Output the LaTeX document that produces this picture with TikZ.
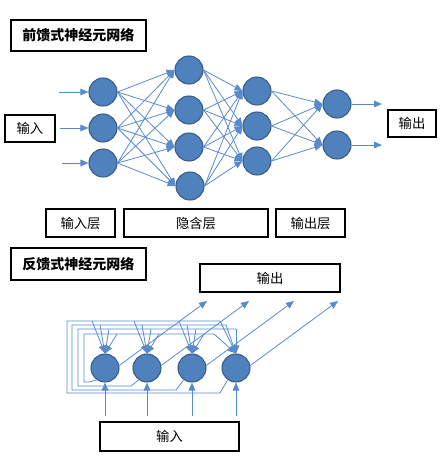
\documentclass[tikz,border=0pt]{standalone}
\usepackage{fontspec}
\newfontfamily\cjk{Noto Sans CJK SC}
\usetikzlibrary{arrows.meta}
\definecolor{nfill}{RGB}{79,129,189}
\definecolor{nedge}{RGB}{56,93,138}
\definecolor{lcol}{RGB}{88,138,204}
\begin{document}
\begin{tikzpicture}[x=0.75pt,y=-0.75pt,
  neuron/.style={circle,fill=nfill,draw=nedge,line width=0.8pt,minimum size=21pt,inner sep=0pt},
  lbl/.style={draw=black,line width=0.8pt,font=\cjk\fontsize{10pt}{12pt}\selectfont,inner sep=0pt},
  ttl/.style={lbl,font=\cjk\bfseries\fontsize{10.5pt}{12pt}\selectfont},
  conn/.style={draw=lcol,line width=0.6pt,-{Triangle[length=6pt,width=5pt]}},
  fb/.style={draw=lcol,line width=0.6pt}]
\useasboundingbox (0,0) rectangle (444,458);
% ---------- feedforward ----------
\node[ttl,minimum width=101.25pt,minimum height=23.25pt] (t1) at (78.5,35.5) {前馈式神经元网络};
\node[lbl,minimum width=37.5pt,minimum height=20.25pt] (inb) at (30,128.5) {输入};
\node[lbl,minimum width=36pt,minimum height=20.25pt] (outb) at (412,123.5) {输出};
\node[lbl,minimum width=51.75pt,minimum height=21pt] (l1) at (80.5,223) {输入层};
\node[lbl,minimum width=108pt,minimum height=21pt] (l2) at (196,223) {隐含层};
\node[lbl,minimum width=51.75pt,minimum height=21pt] (l3) at (310.5,223) {输出层};

\foreach \n/\y in {1/92,2/128,3/163} \node[neuron] (i\n) at (103,\y) {};
\foreach \n/\x/\y in {1/189/70,2/189/110,3/189/147,4/190/186} \node[neuron] (h\n) at (\x,\y) {};
\foreach \n/\y in {1/91,2/126,3/161} \node[neuron] (g\n) at (257,\y) {};
\foreach \n/\y in {1/104,2/145} \node[neuron] (o\n) at (337,\y) {};

\foreach \n/\x/\y in {1/59/92,2/60/128,3/62/163} {
  \coordinate (s\n) at (\x,\y);
  \draw[conn] (s\n) -- (i\n.west);
}
\foreach \a in {1,2,3} \foreach \b in {1,2,3,4} \draw[conn] (i\a.east) -- (h\b.west);
\foreach \a in {1,2,3,4} \foreach \b in {1,2,3} \draw[conn] (h\a.east) -- (g\b.west);
\foreach \a in {1,2,3} \foreach \b in {1,2} \draw[conn] (g\a.east) -- (o\b.west);
\foreach \n/\y in {1/104,2/145} {
  \coordinate (e\n) at (382,\y);
  \draw[conn] (o\n.east) -- (e\n);
}
% ---------- feedback ----------
\node[ttl,minimum width=101.25pt,minimum height=24pt] (t2) at (78.5,264) {反馈式神经元网络};
\node[lbl,minimum width=105pt,minimum height=21pt] (fout) at (270,278) {输出};
\node[lbl,minimum width=104.25pt,minimum height=21.75pt] (fin) at (169.5,436.5) {输入};

\foreach \n/\x in {1/105,2/147,3/192,4/236} \node[neuron] (f\n) at (\x,368) {};

% feedback loops
\foreach \k/\xk/\xl/\yb/\yt/\d/\dd in {1/105/84/382/334/12/-22, 2/147/78/386/329/4/0, 3/192/72/390/325/-5/-10, 4/236/67/393/321/-13/-16} {
  \draw[fb] (f\k.235) -- ({\xk-16},\yb) -- (\xl,\yb) -- (\xl,\yt) -- ({236+(\dd)},\yt);
  \foreach \j/\xj in {1/105,2/147,3/192}
    \draw[conn] ({\xj+(\d)},\yt) -- (f\j.north);
  \draw[conn] ({236+(\dd)},\yt) -- (f4.north);
}

\foreach \n/\x in {1/105,2/147,3/192,4/236} {
  \coordinate (fi\n) at (\x,416);
  \draw[conn] (fi\n) -- (f\n.south);
  \coordinate (fo\n) at ({\x+102},301);
  \draw[conn] (f\n.10) -- (fo\n);
}
\end{tikzpicture}
\end{document}
